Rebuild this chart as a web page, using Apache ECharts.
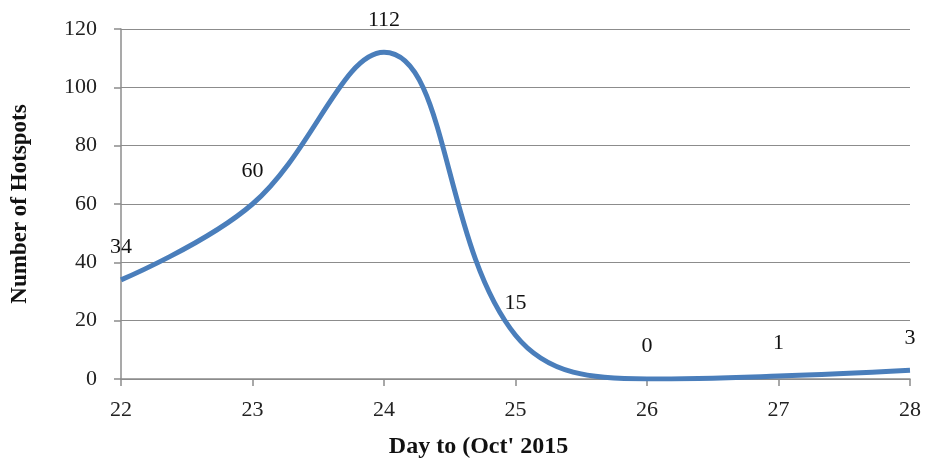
<!DOCTYPE html>
<html><head><meta charset="utf-8">
<script src="https://cdn.jsdelivr.net/npm/echarts@6/dist/echarts.min.js"></script>
<style>html,body{margin:0;padding:0;background:#fff}#c{width:925px;height:464px}</style>
</head><body><div id="c"></div>
<script>
const days = ['22','23','24','25','26','27','28'];
const hotspots = [34, 60, 112, 15, 0, 1, 3];
const yTicks = [0, 20, 40, 60, 80, 100, 120];

const serif = '"Liberation Serif", "Times New Roman", serif';
const chart = echarts.init(document.getElementById('c'));
chart.setOption({
  animation: false,
  grid: {left: 121, right: 15, top: 29, bottom: 85},
  xAxis: {
    type: 'category', data: days, boundaryGap: false,
    name: "Day to (Oct' 2015", nameLocation: 'middle', nameGap: 56,
    nameTextStyle: {fontFamily: serif, fontWeight: 'bold', fontSize: 24, color: '#111', padding: [0, 74, 0, 0]},
    axisLine: {lineStyle: {color: '#8c8c8c', width: 1.5}},
    axisTick: {show: true, length: 7, lineStyle: {color: '#8c8c8c', width: 1.5}},
    axisLabel: {fontFamily: serif, fontSize: 22, color: '#222', margin: 20},
    splitLine: {show: false}
  },
  yAxis: {
    type: 'value', min: yTicks[0], max: yTicks[yTicks.length-1], interval: 20,
    name: 'Number of Hotspots', nameLocation: 'middle', nameGap: 89,
    nameTextStyle: {fontFamily: serif, fontWeight: 'bold', fontSize: 23, color: '#111'},
    axisLine: {show: true, lineStyle: {color: '#8c8c8c', width: 1.5}},
    axisTick: {show: true, length: 7, lineStyle: {color: '#8c8c8c', width: 1.5}},
    axisLabel: {fontFamily: serif, fontSize: 22, color: '#222', margin: 24},
    splitLine: {lineStyle: {color: '#8c8c8c', width: 1.2}}
  },
  series: [{
    type: 'line', data: hotspots, smooth: 0.4,
    symbol: 'circle', symbolSize: 1, showSymbol: true,
    itemStyle: {color: 'rgba(0,0,0,0)'},
    lineStyle: {color: '#4a7ebb', width: 5},
    label: {show: true, position: 'top', distance: 21, fontFamily: serif, fontSize: 22, color: '#111'}
  }]
});
</script></body></html>
